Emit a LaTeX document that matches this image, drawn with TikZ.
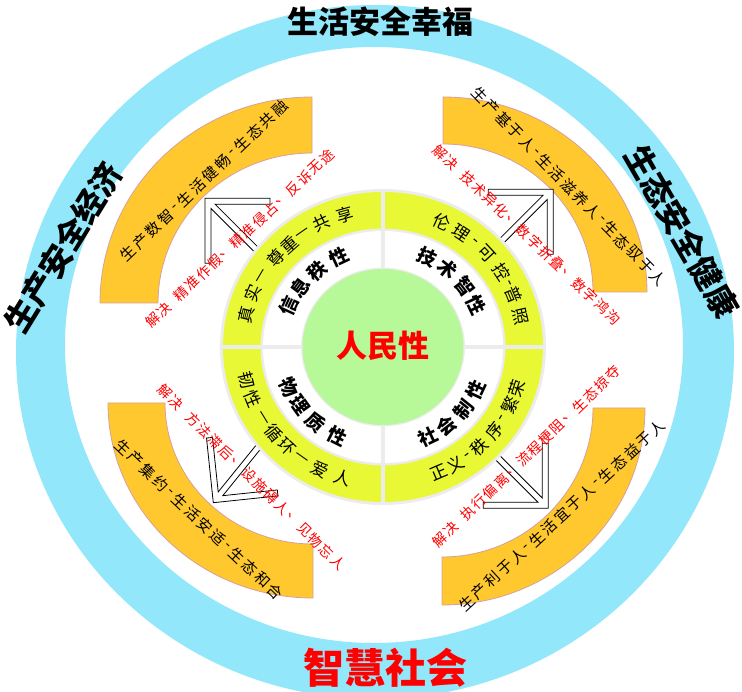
\documentclass[tikz,border=0pt]{standalone}
\usepackage{fontspec}
\newfontfamily\cjk{Noto Sans CJK SC}
\definecolor{ringblue}{RGB}{146,231,250}
\definecolor{bandorange}{RGB}{255,200,46}
\definecolor{bandedge}{RGB}{214,160,160}
\definecolor{limefill}{RGB}{232,248,52}
\definecolor{lightgreen}{RGB}{183,248,152}
\definecolor{sepgray}{RGB}{236,236,236}
% text along a straight chord: start, end, total units, style, list pos/char
\newcommand\linetext[5]{%
  \foreach \p/\c in {#5} {\path (#1) -- (#2) node[pos=\p/#3, sloped, #4] {\c};}}
% text around the centre ring: rx, ry, rotation offset, style, list angle/char
\newcommand\ringtext[5]{%
  \foreach \a/\c in {#5} {\node[#4, rotate=\a#3] at ([shift={(\a:#1 and #2)}]383,-347) {\c};}}
\begin{document}
\begin{tikzpicture}[x=1pt,y=1pt,
  every node/.style={inner sep=0pt, font=\cjk},
  bandtext/.style={font=\cjk\fontsize{15}{15}\selectfont},
  redtext/.style={font=\cjk\fontsize{14}{14}\selectfont, text=red},
  limetext/.style={font=\cjk\fontsize{17}{17}\selectfont},
  whitetext/.style={font=\cjk\bfseries\fontsize{19}{19}\selectfont},
  titletext/.style={font=\cjk\bfseries\fontsize{31}{31}\selectfont},
  sidetext/.style={font=\cjk\bfseries\fontsize{32}{32}\selectfont},
  band/.style={fill=bandorange, draw=bandedge, line width=0.8pt},
  hollowarrow/.style={fill=white, draw=black, line width=0.8pt}]
\useasboundingbox (0,0) rectangle (742,-692);
\fill[white] (0,0) rectangle (742,-692);

% outer blue ring
\fill[ringblue, even odd rule] (375,-352) ellipse [x radius=359, y radius=347]
  (374,-345) ellipse [x radius=309, y radius=298];

% orange quarter bands
\draw[band] (312,-97) arc[start angle=90,end angle=180,x radius=212,y radius=206]
  -- (158,-303) arc[start angle=180,end angle=90,x radius=154,y radius=150] -- cycle;
\draw[band] (443,-97) arc[start angle=90,end angle=0,x radius=204,y radius=195]
  -- (593,-292) arc[start angle=0,end angle=90,x radius=150,y radius=148] -- cycle;
\draw[band] (108,-403) arc[start angle=180,end angle=270,x radius=205,y radius=195]
  -- (313,-544) arc[start angle=270,end angle=180,x radius=148,y radius=141] -- cycle;
\draw[band] (442,-605) arc[start angle=270,end angle=360,x radius=203,y radius=197]
  -- (593,-408) arc[start angle=0,end angle=-90,x radius=151,y radius=149] -- cycle;

% hollow arrows
\foreach \tx/\ty/\rot in {205/-198.3/90, 553.3/-189.3/0, 213.3/-502.7/186, 548.3/-508.3/270}{
  \draw[hollowarrow, shift={(\tx,\ty)}, rotate=\rot]
    (0,0) -- (-65,0) -- (-65,-6) -- (-10.2,-6) -- (-56,-51.8) -- (-51.8,-56)
    -- (-6,-10.2) -- (-6,-65) -- (0,-65) -- cycle;
}

% centre rings
\fill[sepgray] (383,-347) ellipse [x radius=163, y radius=158];
\fill[limefill, even odd rule] (383,-347) ellipse [x radius=160, y radius=155]
  (383,-347) ellipse [x radius=122.5, y radius=118.5];
\fill[white, even odd rule] (383,-347) ellipse [x radius=120, y radius=116]
  (383,-347) ellipse [x radius=82, y radius=79.5];
\draw[sepgray, line width=4pt] (220,-347) -- (546,-347);
\draw[sepgray, line width=4pt] (383,-189) -- (383,-505);
\fill[lightgreen] (383,-347) ellipse [x radius=80.5, y radius=78];

% titles
\node[titletext] (toptitle) at (380,-22) {生活安全幸福};
\node[font=\cjk\bfseries\fontsize{41}{41}\selectfont, text=red] (bottomtitle) at (385,-668) {智慧社会};
\node[sidetext, rotate=58.4] (lefttitle) at (63.5,-247.5) {生产安全经济};
\node[sidetext, rotate=-60] (righttitle) at (682,-231.5) {生态安全健康};
\node[font=\cjk\bfseries\fontsize{31}{31}\selectfont, text=red] (core) at (383,-346) {人民性};

% lime ring texts
\ringtext{141}{137}{-90}{limetext}{166.3/真,157/实,149.3/—,139.5/尊,131.6/重,124.7/—,115.7/共,105.7/享}
\ringtext{141}{137}{-90}{limetext}{65.5/伦,56.3/理,49.6/-,42.9/可,32.9/控,27.6/-,22.3/普,12.9/照}
\ringtext{141}{137}{+90}{limetext}{194.1/韧,202.3/性,211.4/—,219.1/循,227.1/环,234.8/—,243.5/爱,253.3/人}
\ringtext{141}{137}{+90}{limetext}{293.2/正,300.8/义,307/-,313.2/秩,322.3/序,328.5/-,334.8/繁,342.3/荣}

% white ring texts
\ringtext{103}{100}{-90}{whitetext}{155.6/信,143.2/息,130.1/秩,115.1/性}
\ringtext{103}{100}{-90}{whitetext}{64.6/技,51.2/术,37.5/智,25/性}
\ringtext{103}{100}{+90}{whitetext}{203.6/物,215.7/理,229/质,243.5/性}
\ringtext{103}{100}{+90}{whitetext}{295.6/社,307.9/会,321.3/制,334.9/性}

% band texts
\linetext{128,-253}{280,-108}{12}{bandtext}{0/生,1/产,2/数,3/智,3.75/-,4.5/生,5.5/活,6.5/健,7.5/畅,8.25/-,9/生,10/态,11/共,12/融}
\linetext{480,-95}{658,-278}{15}{bandtext}{0/生,1/产,2/基,3/于,4/人,4.75/-,5.5/生,6.5/活,7.5/滋,8.5/养,9.5/人,10.25/-,11/生,12/态,13/驭,14/于,15/人}
\linetext{123,-447}{275,-592}{12}{bandtext}{0/生,1/产,2/集,3/约,3.75/-,4.5/生,5.5/活,6.5/安,7.5/适,8.25/-,9/生,10/态,11/和,12/合}
\linetext{467,-603}{657,-428}{15}{bandtext}{0/生,1/产,2/利,3/于,4/人,4.75/-,5.5/生,6.5/活,7.5/宜,8.5/于,9.5/人,10.25/-,11/生,12/态,13/益,14/于,15/人}

% red texts
\linetext{153,-320}{327,-157}{15.5}{redtext}{0/解,1/决,2.5/精,3.5/准,4.5/作,5.5/假,6.5/、,7.5/精,8.5/准,9.5/侵,10.5/占,11.5/、,12.5/反,13.5/诉,14.5/无,15.5/途}
\linetext{440,-152}{613,-317}{15.5}{redtext}{0/解,1/决,2.5/技,3.5/术,4.5/异,5.5/化,6.5/、,7.5/数,8.5/字,9.5/折,10.5/叠,11.5/、,12.5/数,13.5/字,14.5/鸿,15.5/沟}
\linetext{165,-392}{338,-563}{15.5}{redtext}{0/解,1/决,2.5/方,3.5/法,4.5/滞,5.5/后,6.5/、,7.5/设,8.5/施,9.5/碍,10.5/人,11.5/、,12.5/见,13.5/物,14.5/忘,15.5/人}
\linetext{440,-540}{613,-373}{15.5}{redtext}{0/解,1/决,2.5/执,3.5/行,4.5/偏,5.5/离,6.5/、,7.5/流,8.5/程,9.5/梗,10.5/阻,11.5/、,12.5/生,13.5/态,14.5/掠,15.5/夺}
\end{tikzpicture}
\end{document}
